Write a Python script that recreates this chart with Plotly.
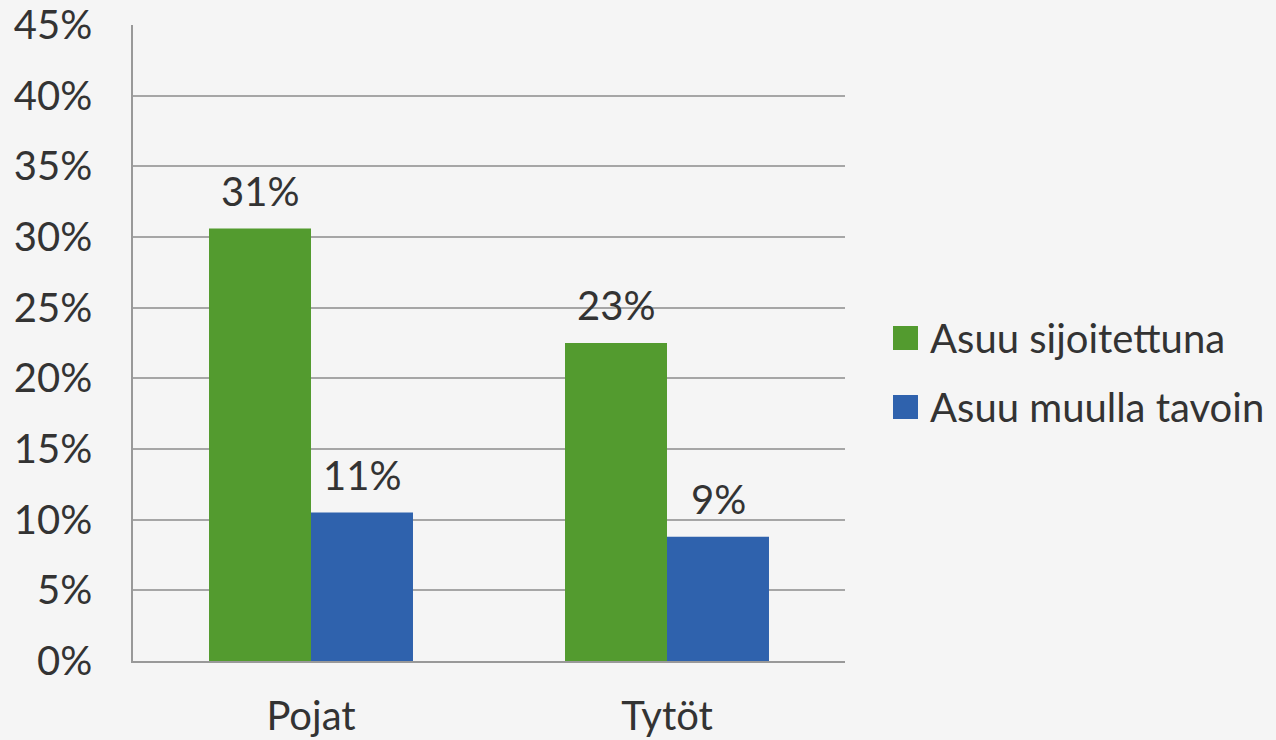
import plotly.graph_objects as go

categories = ["Pojat", "Tytöt"]
series_names = ["Asuu sijoitettuna", "Asuu muulla tavoin"]
placed = [30.6, 22.5]
other = [10.5, 8.8]
placed_labels = ["31%", "23%"]
other_labels = ["11%", "9%"]
tick_vals = [0, 5, 10, 15, 20, 25, 30, 35, 40, 45]
tick_text = [f"{v}%" for v in tick_vals]

GREEN = "#539b2f"
BLUE = "#2f62ad"
COLORS = [GREEN, BLUE]
TEXT = "#333333"
FONT = "Lato"
FS = 40

fig = go.Figure()
fig.add_trace(go.Bar(name=series_names[0], x=categories, y=placed, marker_color=GREEN,
                     marker_line_width=0, showlegend=False))
fig.add_trace(go.Bar(name=series_names[1], x=categories, y=other, marker_color=BLUE,
                     marker_line_width=0, showlegend=False))

for vals, labels, shift in [(placed, placed_labels, -51), (other, other_labels, 51)]:
    for c, v, t in zip(categories, vals, labels):
        fig.add_annotation(x=c, y=v, text=t, showarrow=False, xshift=shift, yshift=12,
                           yanchor="bottom", font=dict(size=FS, color=TEXT, family=FONT))

# manual legend (large square swatches)
legend_rows = [(0.489, 0.5267, 0.5079), (0.3805, 0.4182, 0.3994)]
for name, col, (y0, y1, yc) in zip(series_names, COLORS, legend_rows):
    fig.add_shape(type="rect", xref="paper", yref="paper", x0=1.0674, x1=1.1025,
                  y0=y0, y1=y1, fillcolor=col, line_width=0)
    fig.add_annotation(xref="paper", yref="paper", x=1.1166, y=yc, text=name,
                       showarrow=False, xanchor="left", yanchor="middle",
                       font=dict(size=FS, color=TEXT, family=FONT))

fig.update_layout(
    width=1276, height=740,
    paper_bgcolor="#f5f5f5", plot_bgcolor="#f5f5f5",
    margin=dict(l=133, r=431, t=25, b=79, autoexpand=False),
    barmode="group", bargap=0.427, bargroupgap=0,
    font=dict(family=FONT, size=FS, color=TEXT),
    showlegend=False,
    xaxis=dict(showline=True, linecolor="#999999", linewidth=2, ticks="",
               automargin=False, ticklabelstandoff=19,
               tickfont=dict(size=FS, color=TEXT)),
    yaxis=dict(range=[0, 45], tickvals=tick_vals, ticktext=tick_text,
               showgrid=True, gridcolor="#a6a6a6", gridwidth=1.5,
               showline=True, linecolor="#999999", linewidth=1.5,
               zeroline=False, ticks="", ticklabelstandoff=31, automargin=False,
               tickfont=dict(size=FS, color=TEXT)),
)

fig.write_html("out.html",
               config={"displayModeBar": False},
               post_script="document.body.style.margin='0';"
                           "document.body.style.background='#f5f5f5';")
